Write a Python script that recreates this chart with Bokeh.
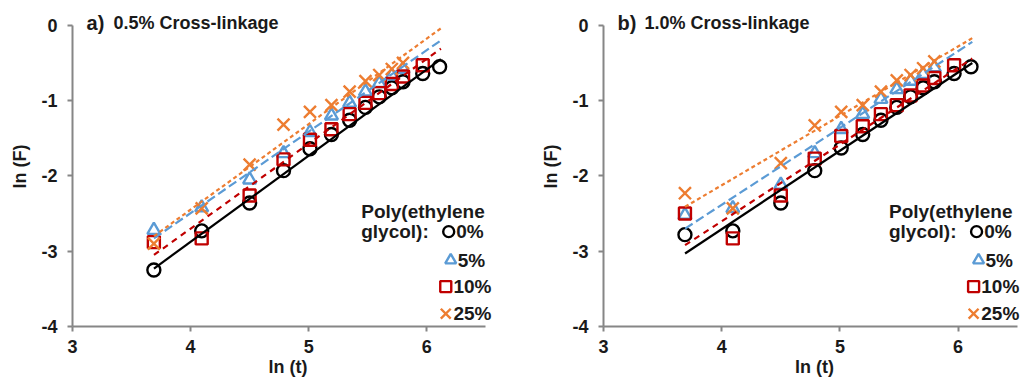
from bokeh.plotting import figure
from bokeh.layouts import row
from bokeh.models import Range1d, Label, FixedTicker
from bokeh.embed import file_html
from bokeh.resources import INLINE

# ---- data ----
ln_t = [3.689, 4.094, 4.500, 4.787, 5.011, 5.193, 5.347, 5.481, 5.598, 5.704, 5.799, 5.966, 6.109]

a_0 = [-3.25, -2.73, -2.36, -1.93, -1.64, -1.45, -1.26, -1.09, -0.95, -0.83, -0.75, -0.64, -0.55]
a_5 = [-2.72, -2.42, -2.05, -1.70, -1.42, -1.20, -1.03, -0.88, -0.77, -0.67, -0.58]
a_10 = [-2.88, -2.83, -2.26, -1.78, -1.52, -1.38, -1.18, -1.03, -0.90, -0.78, -0.68, -0.53]
a_25 = [-2.90, -2.43, -1.85, -1.32, -1.15, -1.06, -0.88, -0.74, -0.66, -0.58, -0.50]

b_0 = [-2.78, -2.73, -2.36, -1.93, -1.63, -1.45, -1.26, -1.09, -0.95, -0.83, -0.75, -0.64, -0.55]
b_5 = [-2.52, -2.43, -2.12, -1.70, -1.38, -1.18, -0.98, -0.85, -0.74, -0.65, -0.56]
b_10 = [-2.50, -2.83, -2.26, -1.77, -1.47, -1.34, -1.18, -1.06, -0.93, -0.80, -0.70, -0.53]
b_25 = [-2.23, -2.43, -1.83, -1.33, -1.15, -1.06, -0.88, -0.73, -0.66, -0.57, -0.48]

fit_x = [3.69, 6.12]
a_fit = {"0%": [-3.23, -0.45], "5%": [-2.83, -0.20], "10%": [-3.05, -0.31], "25%": [-2.80, -0.04]}
b_fit = {"0%": [-3.03, -0.50], "5%": [-2.70, -0.22], "10%": [-2.92, -0.44], "25%": [-2.41, -0.17]}

series_names = ["0%", "5%", "10%", "25%"]
x_ticks = [3, 4, 5, 6]
y_ticks = [-4, -3, -2, -1, 0]
y_tick_labels = ["-4", "-3", "-2", "-1", "0"]
titles = [("a)", "0.5% Cross-linkage"), ("b)", "1.0% Cross-linkage")]

# ---- style ----
COLORS = {"0%": "#000000", "5%": "#5B9BD5", "10%": "#C00000", "25%": "#ED7D31"}
MARKERS = {"0%": "circle", "5%": "triangle", "10%": "square", "25%": "x"}
SIZES = {"0%": 13, "5%": 13, "10%": 12, "25%": 17}
LEG_SIZES = {"0%": 11, "5%": 11, "10%": 11, "25%": 14}
DASH = {"0%": "solid", "5%": "9 4", "10%": "6 5", "25%": "4 3"}
FONT = "Liberation Sans"
AXIS_COLOR = "#868686"
TEXT_COLOR = "#1a1a1a"


def make_panel(data, fits, title, x_end, left_border, right_border, frame_w, leg_dx):
    p = figure(frame_width=frame_w, frame_height=320, output_backend="svg", toolbar_location=None,
               x_range=Range1d(3, x_end), y_range=Range1d(-4, 0.25),
               min_border_left=left_border, min_border_right=right_border,
               min_border_top=6, min_border_bottom=48)
    p.outline_line_color = None
    p.grid.visible = False
    for ax in (p.xaxis[0], p.yaxis[0]):
        ax.axis_line_color = AXIS_COLOR
        ax.axis_line_width = 2
        ax.major_tick_line_color = AXIS_COLOR
        ax.major_tick_line_width = 2
        ax.major_tick_out = 5
        ax.major_tick_in = 0
        ax.minor_tick_line_color = None
        ax.major_label_text_font = FONT
        ax.major_label_text_font_style = "bold"
        ax.major_label_text_font_size = "18px"
        ax.major_label_text_color = TEXT_COLOR
        ax.axis_label_text_font = FONT
        ax.axis_label_text_font_style = "bold"
        ax.axis_label_text_font_size = "18px"
        ax.axis_label_text_color = TEXT_COLOR
    p.xaxis.bounds = (3, 6.5)
    p.yaxis.bounds = (-4, 0)
    p.xaxis.ticker = FixedTicker(ticks=x_ticks)
    p.yaxis.ticker = FixedTicker(ticks=y_ticks)
    p.yaxis.major_label_overrides = {t: s for t, s in zip(y_ticks, y_tick_labels)}
    p.xaxis.axis_label = "ln (t)"
    p.yaxis.axis_label = "ln (F)"
    p.xaxis.major_label_standoff = 8
    p.xaxis.axis_label_standoff = 1
    p.yaxis.major_label_standoff = 10
    p.yaxis.axis_label_standoff = 8

    # markers
    for name in series_names:
        ys = data[name]
        p.scatter(ln_t[:len(ys)], ys, marker=MARKERS[name], size=SIZES[name],
                  line_color=COLORS[name], line_width=2.4, fill_alpha=0)
    # trend lines
    for name in series_names:
        p.line(fit_x, fits[name], line_color=COLORS[name], line_width=2.2,
               line_dash=DASH[name])

    # title
    p.add_layout(Label(x=3.119, y=0.027, text=title[0], text_font=FONT, text_font_style="bold",
                       text_font_size="20px", text_color=TEXT_COLOR, text_baseline="middle"))
    p.add_layout(Label(x=3.347, y=0.027, text=title[1], text_font=FONT, text_font_style="bold",
                       text_font_size="18px", text_color=TEXT_COLOR, text_baseline="middle"))

    # legend
    for txt, yy in (("Poly(ethylene", -2.47), ("glycol):", -2.74)):
        p.add_layout(Label(x=5.445 + leg_dx, y=yy, text=txt, text_font=FONT, text_font_style="bold",
                           text_font_size="19px", text_color=TEXT_COLOR, text_baseline="middle"))
    leg = [("0%", 6.186, 6.250, -2.74), ("5%", 6.203, 6.262, -3.12),
           ("10%", 6.161, 6.226, -3.47), ("25%", 6.161, 6.226, -3.83)]
    for name, mx, tx, yy in leg:
        p.scatter([mx + leg_dx], [yy], marker=MARKERS[name], size=LEG_SIZES[name],
                  line_color=COLORS[name], line_width=2.4, fill_alpha=0)
        p.add_layout(Label(x=tx + leg_dx, y=yy, text=name, text_font=FONT, text_font_style="bold",
                           text_font_size="19px", text_color=TEXT_COLOR, text_baseline="middle"))
    return p


pa = make_panel({"0%": a_0, "5%": a_5, "10%": a_10, "25%": a_25}, a_fit, titles[0],
                6.65, 72, 9, 431, 0.0)
pb = make_panel({"0%": b_0, "5%": b_5, "10%": b_10, "25%": b_25}, b_fit, titles[1],
                6.57, 91, 1, 422, -0.03)

layout = row(pa, pb, spacing=0)
open("out.html", "w").write(file_html(layout, INLINE))
